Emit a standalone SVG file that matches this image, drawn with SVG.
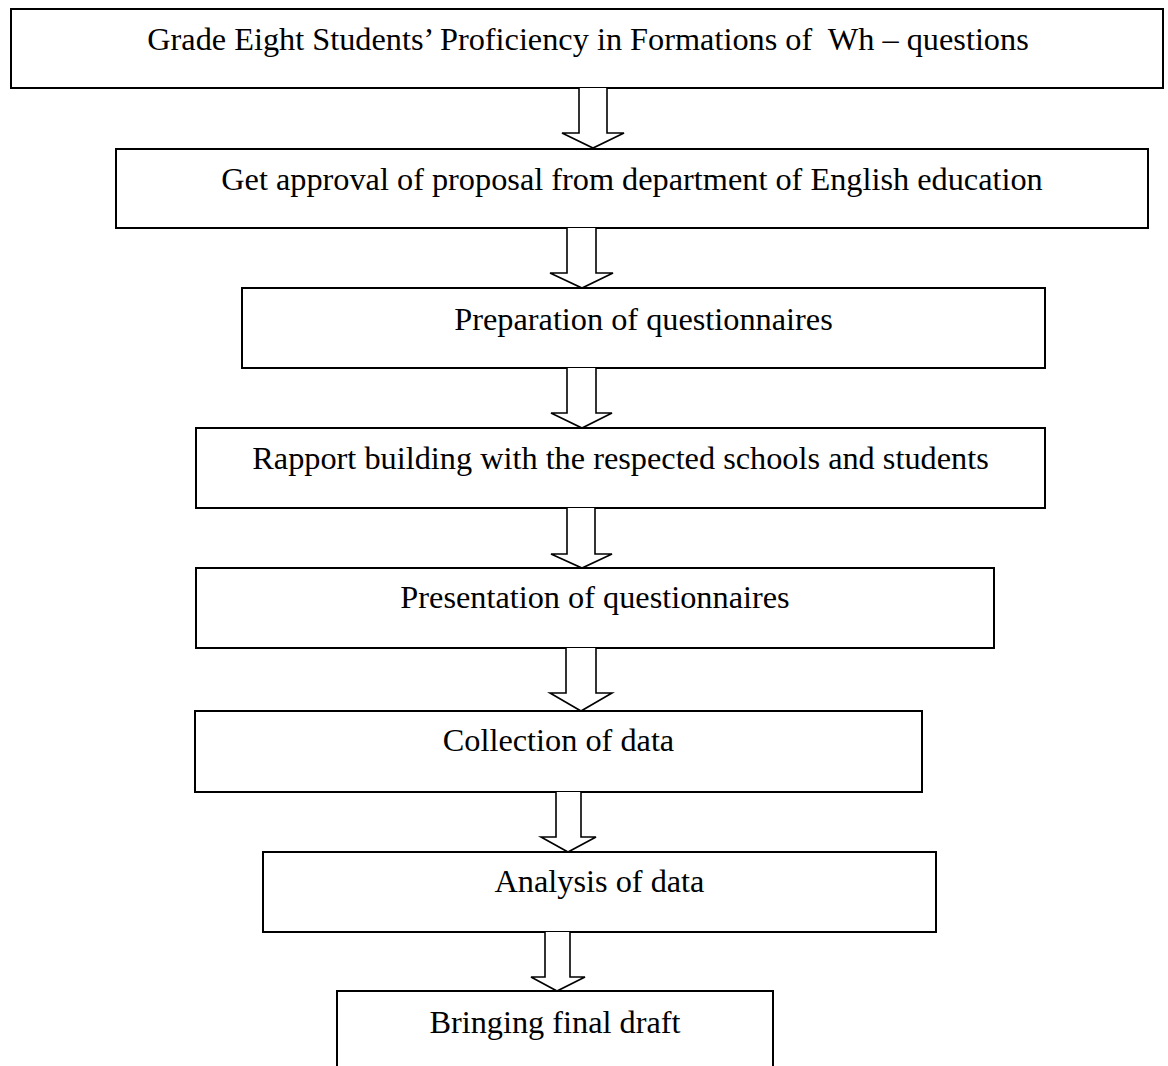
<svg xmlns="http://www.w3.org/2000/svg" width="1168" height="1066" viewBox="0 0 1168 1066">
<style>
.box{fill:#fff;stroke:#000;stroke-width:2}
.lbl{font-family:"Liberation Serif","Times New Roman",serif;font-size:32.3px;fill:#000;text-anchor:middle}
.arr{fill:#fff;stroke:#000;stroke-width:1.6;stroke-linejoin:miter}
</style>
<rect width="1168" height="1066" fill="#fff"/>
<g id="n1"><rect class="box" x="11" y="9" width="1152" height="79"/><text class="lbl" x="588" y="50">Grade Eight Students’ Proficiency in Formations of&#160; Wh – questions</text></g>
<g id="n2"><rect class="box" x="116" y="149" width="1032" height="79"/><text class="lbl" x="632" y="190">Get approval of proposal from department of English education</text></g>
<g id="n3"><rect class="box" x="242" y="288" width="803" height="80"/><text class="lbl" x="643.5" y="330">Preparation of questionnaires</text></g>
<g id="n4"><rect class="box" x="196" y="428" width="849" height="80"/><text class="lbl" x="620.5" y="469">Rapport building with the respected schools and students</text></g>
<g id="n5"><rect class="box" x="196" y="568" width="798" height="80"/><text class="lbl" x="595" y="608">Presentation of questionnaires</text></g>
<g id="n6"><rect class="box" x="195" y="711" width="727" height="81"/><text class="lbl" x="558.5" y="751">Collection of data</text></g>
<g id="n7"><rect class="box" x="263" y="852" width="673" height="80"/><text class="lbl" x="599.5" y="892">Analysis of data</text></g>
<g id="n8"><path class="box" d="M337,1070 V991 H773 V1070"/><text class="lbl" x="555" y="1033">Bringing final draft</text></g>
<g id="connectors">
<polyline class="arr" points="579,88 579,133 562,133 593,148 624,133 607,133 607,88"/>
<polyline class="arr" points="567,228 567,273 550,273 582,288 613,273 596,273 596,228"/>
<polyline class="arr" points="567,368 567,413 551,413 582,428 612,413 596,413 596,368"/>
<polyline class="arr" points="567,508 567,554 551,554 582,568 612,554 595,554 595,508"/>
<polyline class="arr" points="566,648 566,693 550,693 581,711 612,693 596,693 596,648"/>
<polyline class="arr" points="556,792 556,837 541,837 568,852 596,837 581,837 581,792"/>
<polyline class="arr" points="545,932 545,977 531,977 557,991 585,977 570,977 570,932"/>
</g>
</svg>
